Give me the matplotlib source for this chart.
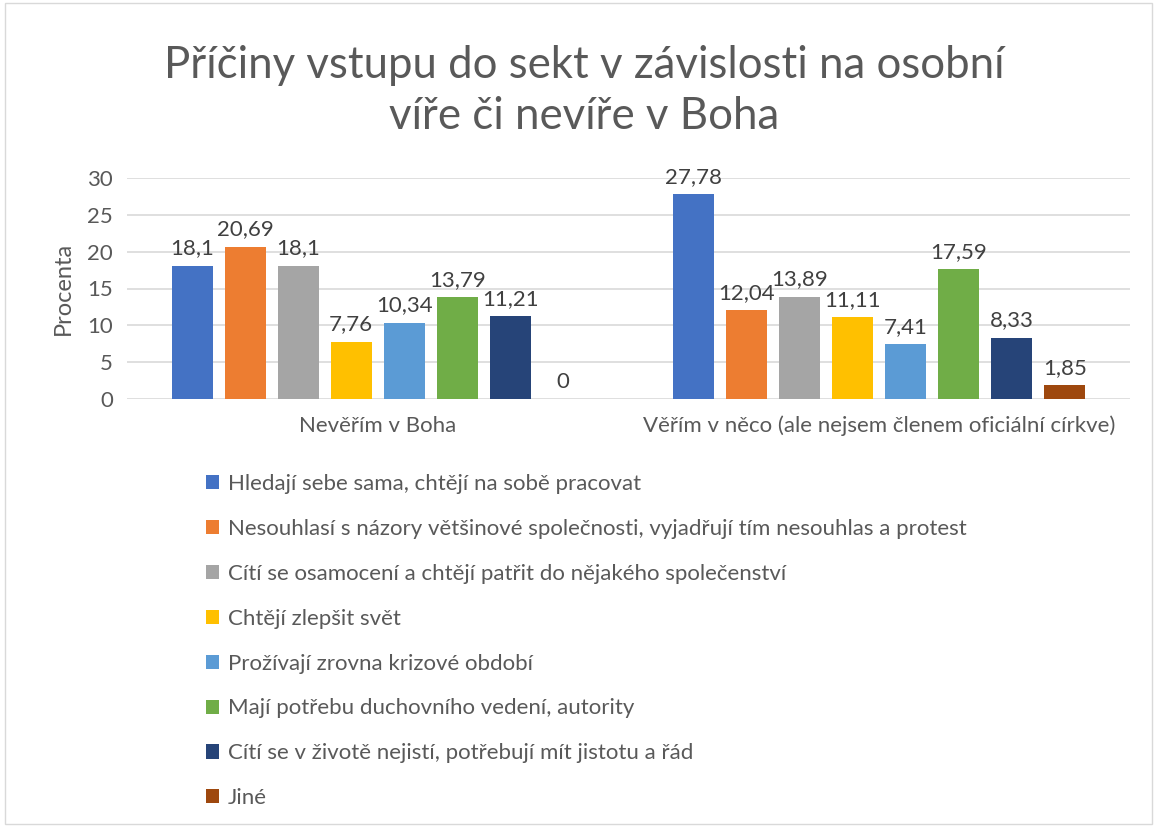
import matplotlib.pyplot as plt
from matplotlib.patches import Rectangle
import numpy as np

plt.rcParams['font.family'] = ['Lato', 'DejaVu Sans']

# data
categories = ['Nevěřím v Boha', 'Věřím v něco (ale nejsem členem oficiální církve)']
series = [
    'Hledají sebe sama, chtějí na sobě pracovat',
    'Nesouhlasí s názory většinové společnosti, vyjadřují tím nesouhlas a protest',
    'Cítí se osamocení a chtějí patřit do nějakého společenství',
    'Chtějí zlepšit svět',
    'Prožívají zrovna krizové období',
    'Mají potřebu duchovního vedení, autority',
    'Cítí se v životě nejistí, potřebují mít jistotu a řád',
    'Jiné',
]
values_nevěřím = [18.1, 20.69, 18.1, 7.76, 10.34, 13.79, 11.21, 0]
values_věřím = [27.78, 12.04, 13.89, 11.11, 7.41, 17.59, 8.33, 1.85]
colors = ['#4472C4', '#ED7D31', '#A5A5A5', '#FFC000', '#5B9BD5',
          '#70AD47', '#264478', '#9E480E']

txt = '#595959'

fig = plt.figure(figsize=(11.57, 8.27), dpi=100)
ax = fig.add_axes([127 / 1157, 1 - 399 / 827, 1003 / 1157, 221 / 827])

x = np.arange(len(categories))
step = 0.1057
width = 0.082
for i, s in enumerate(series):
    vals = [values_nevěřím[i], values_věřím[i]]
    pos = x + (i - 3.5) * step
    bars = ax.bar(pos, vals, width, color=colors[i], label=s, zorder=3)
    for b, v in zip(bars, vals):
        lab = ('%g' % v).replace('.', ',')
        ax.text(b.get_x() + b.get_width() / 2, v + 1.0, lab, ha='center',
                va='bottom', fontsize=16, color='#404040')

ax.set_xlim(-0.5, 1.5)
ax.set_ylim(0, 30)
ax.set_yticks(range(0, 31, 5))
ax.grid(axis='y', color='#D9D9D9', linewidth=1.2, zorder=0)
for sp in ax.spines.values():
    sp.set_visible(False)
ax.tick_params(axis='both', length=0, labelsize=16, labelcolor=txt, pad=10)
ax.set_xticks(x)
ax.set_xticklabels(categories)
ax.tick_params(axis='x', pad=12)
ax.set_ylabel('Procenta', fontsize=17, color=txt, labelpad=10)

fig.text(0.505, 1 - 91 / 827, 'Příčiny vstupu do sekt v závislosti na osobní\nvíře či nevíře v Boha',
         ha='center', va='center', fontsize=31.5, color=txt, linespacing=1.32)

fig.legend(loc='upper left', bbox_to_anchor=(206 / 1157, 1 - 474 / 827),
           frameon=False, fontsize=16, labelcolor=txt, handlelength=0.6,
           handleheight=0.6, handletextpad=0.4, labelspacing=1.12,
           borderaxespad=0, borderpad=0)

fig.patches.append(Rectangle((0.004, 0.004), 0.992, 0.992, transform=fig.transFigure,
                             fill=False, edgecolor='#D9D9D9', linewidth=1))

fig.savefig('out.png', dpi=100)
